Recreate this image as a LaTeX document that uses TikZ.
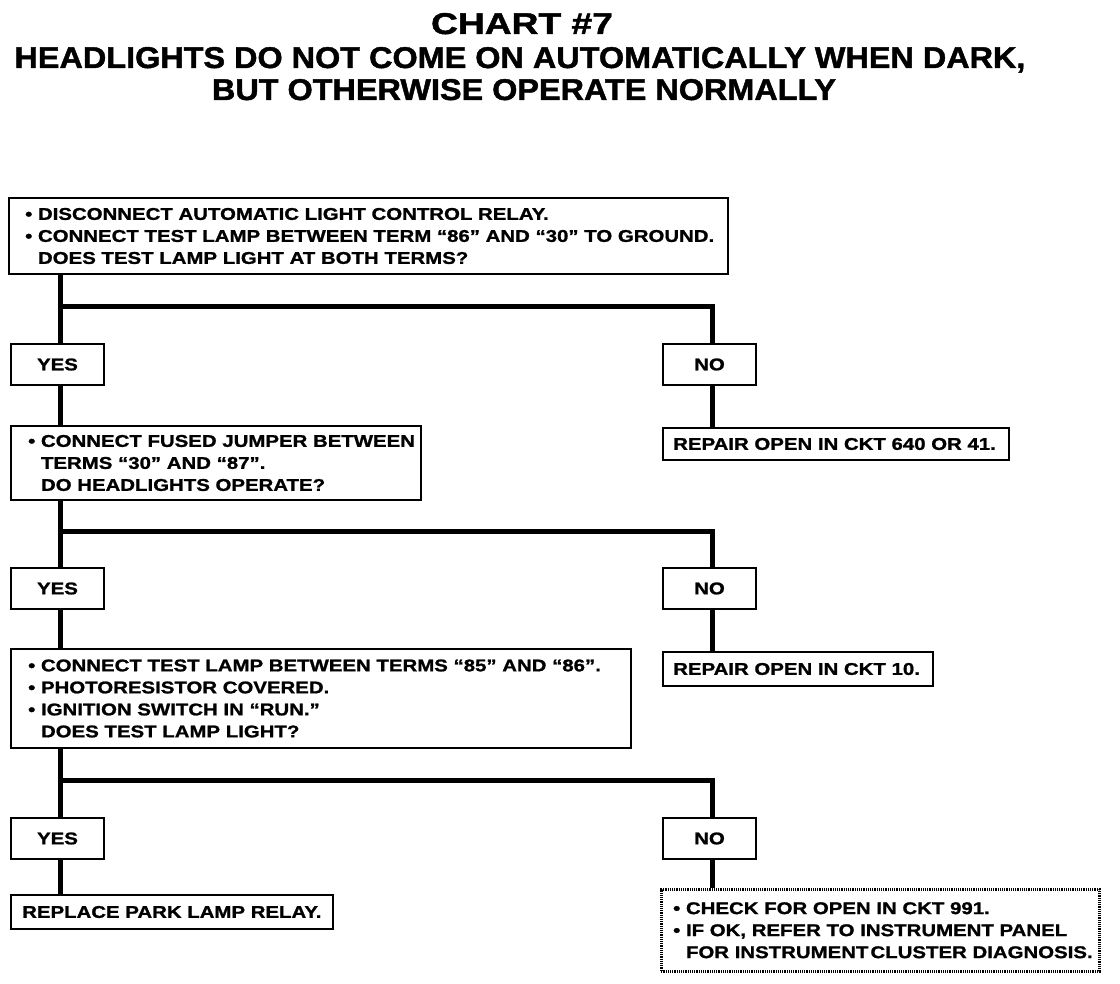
\documentclass[tikz,border=0pt]{standalone}
\usepackage{fontspec}
\newfontfamily\boxfont{Liberation Sans}[FakeStretch=1.2, FakeBold=1.2]
\newfontfamily\titlefont{Liberation Sans}[FakeStretch=1.08, FakeBold=1.5]
\newfontfamily\chartfont{Liberation Sans}[FakeStretch=1.24, FakeBold=1.5]
\newcommand\myind{\hphantom{•\ }}
\begin{document}
\begin{tikzpicture}[x=1pt,y=-1pt,
  frame/.style={draw, line width=2pt, anchor=north west, inner sep=0pt},
  dotframe/.style={draw, line width=2.5pt, dash pattern=on 1.2pt off 1pt, anchor=north west, inner sep=0pt},
  txt/.style={anchor=west, align=left, inner sep=0pt, font=\boxfont\bfseries\fontsize{17}{22}\selectfont},
  ans/.style={draw, line width=2pt, anchor=north west, minimum width=93pt, minimum height=41pt, inner sep=0pt, font=\boxfont\bfseries\fontsize{17}{22}\selectfont},
  conn/.style={line width=5pt},
  ttl/.style={anchor=base, inner sep=0pt}]
\useasboundingbox (0,0) rectangle (1120,984);

% titles
\node[ttl, font=\chartfont\bfseries\fontsize{30}{30}\selectfont] (t1) at (522,34) {CHART \#7};
\node[ttl, font=\titlefont\bfseries\fontsize{30}{30}\selectfont] (t2) at (520,68) {HEADLIGHTS DO NOT COME ON AUTOMATICALLY WHEN DARK,};
\node[ttl, font=\titlefont\bfseries\fontsize{30}{30}\selectfont] (t3) at (524,100) {BUT OTHERWISE OPERATE NORMALLY};

% box 1
\node[frame, minimum width=719pt, minimum height=76pt] (b1) at (8,197) {};
\node[txt] (b1t) at ([xshift=17pt]b1.west) {• DISCONNECT AUTOMATIC LIGHT CONTROL RELAY.\\
• CONNECT TEST LAMP BETWEEN TERM “86” AND “30” TO GROUND.\\
\myind DOES TEST LAMP LIGHT AT BOTH TERMS?};

\node[ans] (y1) at (10,343) {YES};
\node[ans] (n1) at (662,343) {NO};

% box 2
\node[frame, minimum width=410pt, minimum height=74pt] (b2) at (10,425) {};
\node[txt] (b2t) at ([xshift=18pt]b2.west) {• CONNECT FUSED JUMPER BETWEEN\\
\myind TERMS “30” AND “87”.\\
\myind DO HEADLIGHTS OPERATE?};

\node[frame, minimum width=346pt, minimum height=32pt] (r1) at (662,427) {};
\node[txt] (r1t) at ([xshift=11pt]r1.west) {REPAIR OPEN IN CKT 640 OR 41.};

\node[ans] (y2) at (10,567) {YES};
\node[ans] (n2) at (662,567) {NO};

% box 3
\node[frame, minimum width=620pt, minimum height=99pt] (b3) at (10,648) {};
\node[txt] (b3t) at ([xshift=18pt]b3.west) {• CONNECT TEST LAMP BETWEEN TERMS “85” AND “86”.\\
• PHOTORESISTOR COVERED.\\
• IGNITION SWITCH IN “RUN.”\\
\myind DOES TEST LAMP LIGHT?};

\node[frame, minimum width=270pt, minimum height=34pt] (r2) at (662,651) {};
\node[txt] (r2t) at ([xshift=11pt]r2.west) {REPAIR OPEN IN CKT 10.};

\node[ans] (y3) at (10,817) {YES};
\node[ans] (n3) at (662,817) {NO};

\node[frame, minimum width=322pt, minimum height=34pt] (r3) at (10,894) {};
\node[txt] (r3t) at ([xshift=12pt]r3.west) {REPLACE PARK LAMP RELAY.};

\node[dotframe, minimum width=438pt, minimum height=82pt] (r4) at (660,888) {};
\node[txt] (r4t) at ([xshift=13pt]r4.west) {• CHECK FOR OPEN IN CKT 991.\\
• IF OK, REFER TO INSTRUMENT PANEL\\
\myind FOR INSTRUMENT\hspace{0.12em}CLUSTER DIAGNOSIS.};

% junctions
\coordinate (j1) at (60,307);
\coordinate (j2) at (60,531);
\coordinate (j3) at (60,780);
\coordinate (k1) at (712,307);
\coordinate (k2) at (712,531);
\coordinate (k3) at (712,780);

\draw[conn] (b1.south -| j1) -- (y1.north -| j1);
\draw[conn] (j1) -- (k1) -- (n1.north -| k1);
\draw[conn] (y1.south -| j1) -- (b2.north -| j1);
\draw[conn] (n1.south -| k1) -- (r1.north -| k1);

\draw[conn] (b2.south -| j2) -- (y2.north -| j2);
\draw[conn] (j2) -- (k2) -- (n2.north -| k2);
\draw[conn] (y2.south -| j2) -- (b3.north -| j2);
\draw[conn] (n2.south -| k2) -- (r2.north -| k2);

\draw[conn] (b3.south -| j3) -- (y3.north -| j3);
\draw[conn] (j3) -- (k3) -- (n3.north -| k3);
\draw[conn] (y3.south -| j3) -- (r3.north -| j3);
\draw[conn] (n3.south -| k3) -- (r4.north -| k3);
\end{tikzpicture}
\end{document}
